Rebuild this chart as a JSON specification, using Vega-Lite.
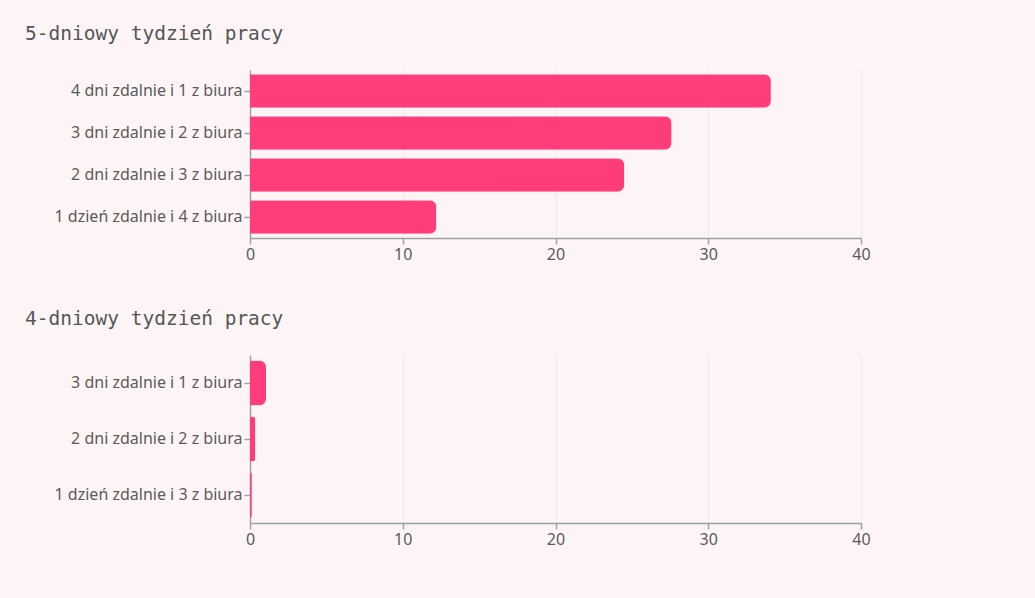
{
  "$schema": "https://vega.github.io/schema/vega-lite/v6.json",
  "background": "#fdf5f5",
  "padding": {"left": 25, "top": 23, "right": 173, "bottom": 52},
  "spacing": 46,
  "config": {
    "view": {"stroke": null},
    "title": {"font": "DejaVu Sans Mono", "fontSize": 19.5, "fontWeight": "normal", "color": "#555555", "anchor": "start", "frame": "bounds", "offset": 26},
    "axis": {
      "labelFont": "Noto Sans", "labelFontSize": 16, "labelColor": "#5a5a5a", "labelLimit": 400,
      "domainColor": "#a0a0a0", "tickColor": "#a0a0a0", "domainWidth": 1.5, "tickWidth": 1.5,
      "gridColor": "#f0e9e9", "title": null
    }
  },
  "datasets": {
    "five": [
      {"opcja": "4 dni zdalnie i 1 z biura", "procent": 34.1},
      {"opcja": "3 dni zdalnie i 2 z biura", "procent": 27.6},
      {"opcja": "2 dni zdalnie i 3 z biura", "procent": 24.5},
      {"opcja": "1 dzień zdalnie i 4 z biura", "procent": 12.2}
    ],
    "four": [
      {"opcja": "3 dni zdalnie i 1 z biura", "procent": 1.05},
      {"opcja": "2 dni zdalnie i 2 z biura", "procent": 0.35},
      {"opcja": "1 dzień zdalnie i 3 z biura", "procent": 0.12}
    ]
  },
  "vconcat": [
    {
      "title": {"text": "5-dniowy tydzień pracy", "dx": -29},
      "data": {"name": "five"},
      "width": 611,
      "height": 168,
      "mark": {"type": "bar", "color": "#ff3d7a", "cornerRadiusEnd": 7},
      "encoding": {
        "y": {"field": "opcja", "type": "nominal", "sort": null,
              "scale": {"paddingInner": 0.2, "paddingOuter": 0.1},
              "axis": {"grid": false, "labelPadding": 2, "tickSize": 6}},
        "x": {"field": "procent", "type": "quantitative",
              "scale": {"domain": [0, 40]},
              "axis": {"values": [0, 10, 20, 30, 40], "grid": true, "tickSize": 6, "labelPadding": 2, "labelFlush": false}}
      }
    },
    {
      "title": {"text": "4-dniowy tydzień pracy", "dx": -29},
      "data": {"name": "four"},
      "width": 611,
      "height": 168,
      "mark": {"type": "bar", "color": "#ff3d7a", "cornerRadiusEnd": 7},
      "encoding": {
        "y": {"field": "opcja", "type": "nominal", "sort": null,
              "scale": {"paddingInner": 0.2, "paddingOuter": 0.1},
              "axis": {"grid": false, "labelPadding": 2, "tickSize": 6}},
        "x": {"field": "procent", "type": "quantitative",
              "scale": {"domain": [0, 40]},
              "axis": {"values": [0, 10, 20, 30, 40], "grid": true, "tickSize": 6, "labelPadding": 2, "labelFlush": false}}
      }
    }
  ]
}
